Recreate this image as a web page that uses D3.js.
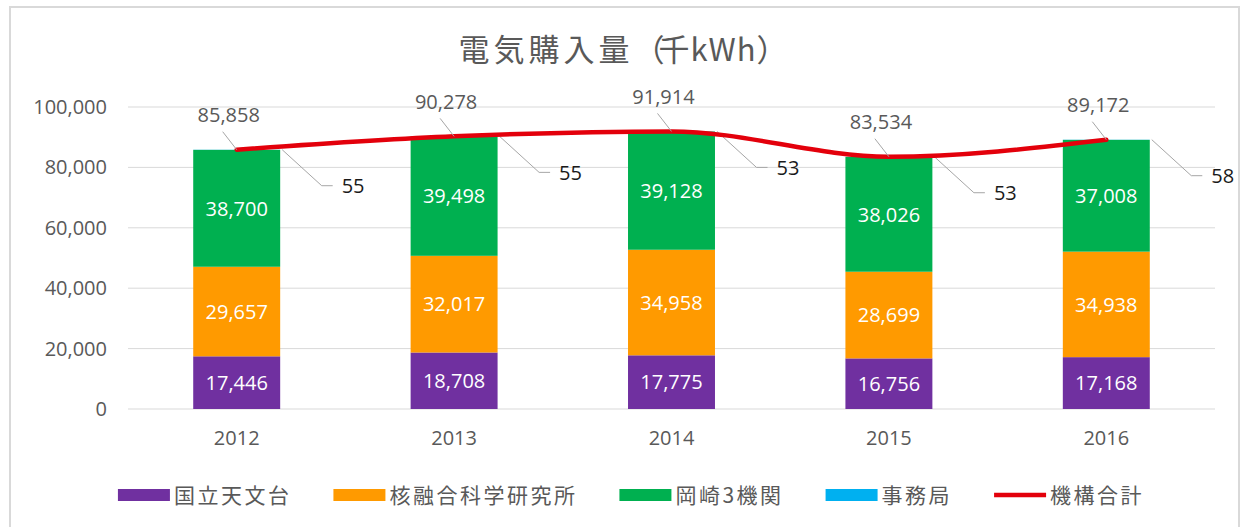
<!DOCTYPE html>
<html lang="ja">
<head>
<meta charset="utf-8">
<title>電気購入量</title>
<style>
  body { margin: 0; background: #fff; }
  .num { font-family: "Open Sans", sans-serif; font-size: 20px; }
  .jp { font-family: "Noto Sans CJK JP", sans-serif; }
</style>
</head>
<body>
<script src="https://cdn.jsdelivr.net/npm/d3@7"></script>
<script>
// data
var years = ["2012", "2013", "2014", "2015", "2016"];
var naoj = [17446, 18708, 17775, 16756, 17168];      // 国立天文台
var nifs = [29657, 32017, 34958, 28699, 34938];      // 核融合科学研究所
var okazaki = [38700, 39498, 39128, 38026, 37008];   // 岡崎3機関
var office = [55, 55, 53, 53, 58];                   // 事務局
var total = [85858, 90278, 91914, 83534, 89172];     // 機構合計
var seriesNames = ["国立天文台", "核融合科学研究所", "岡崎3機関", "事務局"];
var lineName = "機構合計";
var yTicks = [0, 20000, 40000, 60000, 80000, 100000];

var colors = ["#7030a0", "#ff9a00", "#00b050", "#00b0f0"];
var lineColor = "#e3000b";

var W = 1245, H = 527;
var fmt = d3.format(",");

var svg = d3.select("body").append("svg")
    .attr("width", W)
    .attr("height", H);

// chart border
svg.append("rect")
    .attr("x", 10).attr("y", 7)
    .attr("width", 1229).attr("height", 540)
    .attr("fill", "none")
    .attr("stroke", "#d9d9d9")
    .attr("stroke-width", 2);

// title
var title = svg.append("text")
    .attr("class", "jp")
    .attr("x", 623).attr("y", 61)
    .attr("text-anchor", "middle")
    .attr("font-size", 31)
    .attr("fill", "#595959");
title.append("tspan").attr("letter-spacing", 4).text("電気購入量");
title.append("tspan").attr("letter-spacing", -6).text("（");
title.append("tspan").attr("letter-spacing", 1).text("千kWh");
title.append("tspan").text("）");

var x = d3.scaleBand()
    .domain(years)
    .range([128, 1215])
    .paddingInner(0.6)
    .paddingOuter(0.3);

var y = d3.scaleLinear()
    .domain([0, 100000])
    .range([409, 107]);

// gridlines
svg.append("g")
    .selectAll("line")
    .data(yTicks)
    .enter().append("line")
    .attr("x1", 128).attr("x2", 1215)
    .attr("y1", function(d) { return y(d); })
    .attr("y2", function(d) { return y(d); })
    .attr("stroke", "#d9d9d9")
    .attr("stroke-width", 1);

// y axis labels
var yAxis = svg.append("g")
    .attr("transform", "translate(128,0)")
    .call(d3.axisLeft(y).tickValues(yTicks).tickSize(0).tickPadding(21).tickFormat(fmt));
yAxis.select(".domain").remove();
yAxis.selectAll("text").attr("class", "num").attr("fill", "#595959")
    .attr("font-family", null).attr("font-size", null);

// x axis labels
var xAxis = svg.append("g")
    .attr("transform", "translate(0,409)")
    .call(d3.axisBottom(x).tickSize(0).tickPadding(22));
xAxis.select(".domain").remove();
xAxis.selectAll("text").attr("class", "num").attr("fill", "#595959")
    .attr("font-family", null).attr("font-size", null);

// stacked bars
var rows = years.map(function(yr, i) {
    return { year: yr, a: naoj[i], b: nifs[i], c: okazaki[i], d: office[i] };
});
var keys = ["a", "b", "c", "d"];
var stacked = d3.stack().keys(keys)(rows);

var layers = svg.append("g").selectAll("g")
    .data(stacked)
    .enter().append("g")
    .attr("fill", function(d, i) { return colors[i]; });

layers.selectAll("rect")
    .data(function(d) { return d; })
    .enter().append("rect")
    .attr("x", function(d) { return x(d.data.year); })
    .attr("width", x.bandwidth())
    .attr("y", function(d) { return y(d[1]); })
    .attr("height", function(d) { return y(d[0]) - y(d[1]); });

// labels inside bars (first three series)
stacked.slice(0, 3).forEach(function(layer) {
    svg.append("g").selectAll("text")
        .data(layer)
        .enter().append("text")
        .attr("class", "num")
        .attr("x", function(d) { return x(d.data.year) + x.bandwidth() / 2; })
        .attr("y", function(d) { return (y(d[0]) + y(d[1])) / 2; })
        .attr("dy", "0.36em")
        .attr("text-anchor", "middle")
        .attr("fill", "#fff")
        .text(function(d) { return fmt(d[1] - d[0]); });
});

// 事務局 labels with leader lines
var offG = svg.append("g");
years.forEach(function(yr, i) {
    var x0 = x(yr) + x.bandwidth();
    var y0 = y(total[i]);
    var lx = x(yr) + x.bandwidth() / 2 + 105;
    var ly = y0 + 36;
    offG.append("polyline")
        .attr("points", [[x0 + 2, y0], [lx - 20, ly], [lx - 9, ly]].join(" "))
        .attr("fill", "none")
        .attr("stroke", "#a6a6a6")
        .attr("stroke-width", 1);
    offG.append("text")
        .attr("class", "num")
        .attr("x", lx)
        .attr("y", ly)
        .attr("dy", "0.36em")
        .attr("fill", "#1a1a1a")
        .text(fmt(office[i]));
});

// total line
var line = d3.line()
    .x(function(d, i) { return x(years[i]) + x.bandwidth() / 2; })
    .y(function(d) { return y(d); })
    .curve(d3.curveMonotoneX);

svg.append("path")
    .datum(total)
    .attr("d", line)
    .attr("fill", "none")
    .attr("stroke", lineColor)
    .attr("stroke-width", 4.5)
    .attr("stroke-linecap", "round");

// total labels with leader lines
var totG = svg.append("g");
years.forEach(function(yr, i) {
    var cx = x(yr) + x.bandwidth() / 2;
    var cy = y(total[i]);
    var lx = cx - 8;
    var ly = cy - 35;
    totG.append("line")
        .attr("x1", lx - 6).attr("y1", ly + 17)
        .attr("x2", cx).attr("y2", cy)
        .attr("stroke", "#a6a6a6")
        .attr("stroke-width", 1);
    totG.append("text")
        .attr("class", "num")
        .attr("x", lx)
        .attr("y", ly)
        .attr("dy", "0.36em")
        .attr("text-anchor", "middle")
        .attr("fill", "#595959")
        .text(fmt(total[i]));
});

// legend
var legend = svg.append("g");
var items = seriesNames.map(function(n, i) { return { name: n, color: colors[i], type: "rect" }; });
items.push({ name: lineName, color: lineColor, type: "line" });

var legY = 495, swW = 52, gap = 42;
var cursor = 0;
items.forEach(function(it) {
    var g = legend.append("g");
    if (it.type === "rect") {
        g.append("rect")
            .attr("x", 0).attr("y", legY - 6)
            .attr("width", swW).attr("height", 12)
            .attr("fill", it.color);
    } else {
        g.append("line")
            .attr("x1", 0).attr("x2", swW)
            .attr("y1", legY).attr("y2", legY)
            .attr("stroke", it.color)
            .attr("stroke-width", 4.5);
    }
    var t = g.append("text")
        .attr("class", "jp")
        .attr("x", swW + 4)
        .attr("y", legY)
        .attr("dy", "0.36em")
        .attr("font-size", 21)
        .attr("letter-spacing", 2.5)
        .attr("fill", "#595959")
        .text(it.name);
    var w = swW + 4 + t.node().getComputedTextLength();
    g.attr("transform", "translate(" + cursor + ",0)");
    cursor += w + gap;
});
var legW = cursor - gap;
legend.attr("transform", "translate(" + (631 - legW / 2) + ",0)");
</script>
</body>
</html>
